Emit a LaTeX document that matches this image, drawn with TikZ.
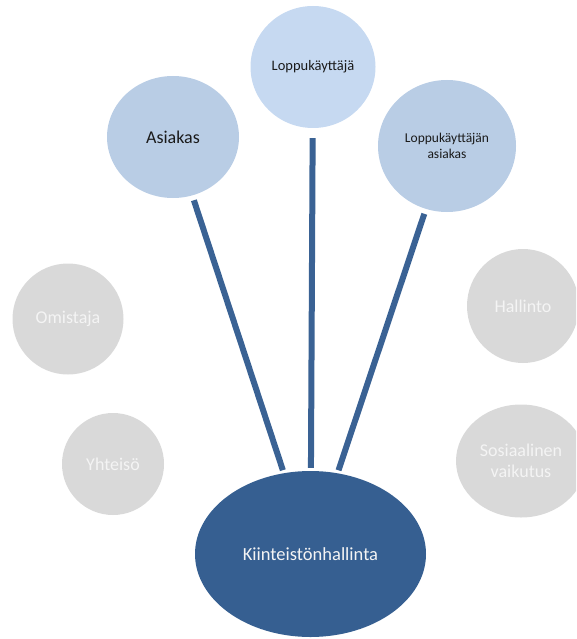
\documentclass[tikz,border=0pt]{standalone}
\usepackage{fontspec}
\setmainfont{Carlito}
\usetikzlibrary{shapes.geometric}
\definecolor{darkblue}{HTML}{365F91}
\definecolor{linkblue}{HTML}{3A6294}
\definecolor{midblue}{HTML}{B9CDE5}
\definecolor{paleblue}{HTML}{C6D9F1}
\definecolor{greyfill}{HTML}{D9D9D9}
\definecolor{greytext}{HTML}{F4F4F4}
\definecolor{darktext}{HTML}{1A1A1A}
\tikzset{
  blob/.style={ellipse, inner sep=0pt, align=center},
  stakeblue/.style={blob, fill=midblue, text=darktext},
  stakepale/.style={blob, fill=paleblue, text=darktext},
  stakegrey/.style={blob, fill=greyfill, text=greytext, font=\fontsize{18}{21}\selectfont},
  mainblob/.style={blob, fill=darkblue, text=greytext, font=\fontsize{18.5}{22}\selectfont},
  link/.style={draw=linkblue, line width=6pt, shorten <=5pt, shorten >=3pt}
}
\begin{document}
\begin{tikzpicture}[x=1pt,y=-1pt]
\useasboundingbox (0,0) rectangle (576,639);
\clip (0,0) rectangle (576,639);
% main ellipse
\node[mainblob, minimum width=231pt, minimum height=166pt] (k) at (310.5,554) {Kiinteistönhallinta};
% blue stakeholders
\node[stakeblue, minimum width=132pt, minimum height=122pt, font=\fontsize{18}{21}\selectfont] (a) at (173,137) {Asiakas};
\node[stakepale, minimum width=125pt, minimum height=122pt, font=\fontsize{14.5}{17}\selectfont] (l) at (313,67) {Loppukäyttäjä};
\node[stakeblue, minimum width=138pt, minimum height=132pt, font=\fontsize{13.5}{16}\selectfont] (la) at (447,146) {Loppukäyttäjän\\asiakas};
% grey stakeholders
\node[stakegrey, minimum width=111pt, minimum height=111pt] (o) at (68,319) {Omistaja};
\node[stakegrey, minimum width=102pt, minimum height=102pt] (y) at (113,464) {Yhteisö};
\node[stakegrey, minimum width=112pt, minimum height=114pt] (h) at (523,306) {Hallinto};
\node[stakegrey, minimum width=130pt, minimum height=113pt] (s) at (521,461) {Sosiaalinen\\vaikutus};
% connectors
\draw[link] (a) -- (k);
\draw[link, shorten <=10pt] (l) -- (k);
\draw[link] (la) -- (k);
\end{tikzpicture}
\end{document}
